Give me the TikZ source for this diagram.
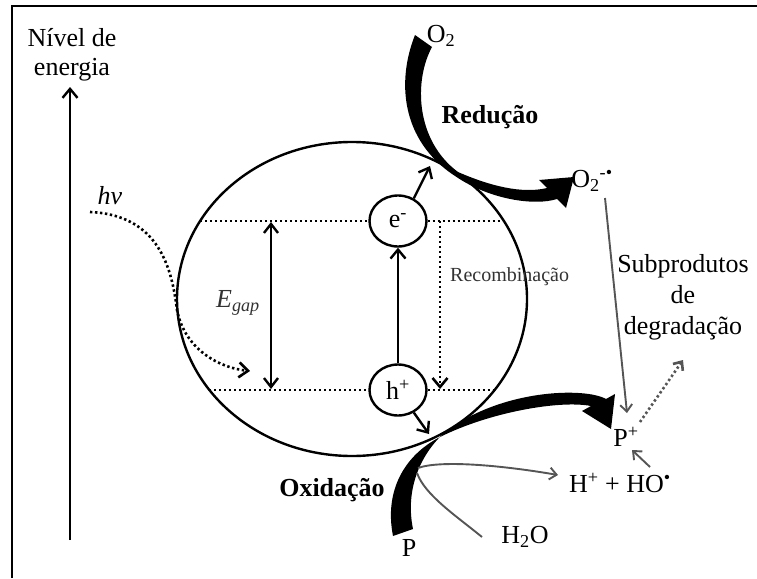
\documentclass[tikz,border=0pt]{standalone}
\usepackage{fontspec}
\setmainfont{Liberation Serif}
\usetikzlibrary{arrows.meta,shapes.geometric}
\definecolor{graycol}{HTML}{555555}
\definecolor{txtgray}{HTML}{333333}
\begin{document}
\begin{tikzpicture}[x=1pt,y=-1pt,
  every node/.style={font=\fontsize{26}{30}\selectfont, inner sep=0pt},
  boldtxt/.style={font=\fontsize{26}{30}\selectfont\bfseries},
  barb/.style={-{Straight Barb[length=9pt,width=15pt]}},
  dbarb/.style={{Straight Barb[length=9pt,width=14pt]}-{Straight Barb[length=9pt,width=14pt]}},
  gbarb/.style={-{Straight Barb[length=7pt,width=12pt]}},
  dotline/.style={line width=2.6pt, dash pattern=on 2.4pt off 2.6pt},
  grayline/.style={draw=graycol, line width=1.9pt},
  thickline/.style={line width=2.4pt},
  carrier/.style={draw, line width=2.4pt, ellipse, minimum width=57pt, minimum height=51pt, fill=white}]
\useasboundingbox (0,0) rectangle (757,578);
% frame
\draw[line width=2.4pt] (12,578) -- (12,6) -- (757,6);
% energy axis
\coordinate (ax0) at (70,540);
\coordinate (ax1) at (70,87);
\draw[thickline,barb] (ax0) -- (ax1);
\node[align=center, font=\fontsize{26}{29}\selectfont] (nivel) at (72,55) {Nível de\\energia};
% particle ellipse
\draw[thickline] (352,299) ellipse [x radius=175pt, y radius=157pt];
% band levels
\coordinate (vbL) at (200,221);
\coordinate (vbR) at (504,221);
\coordinate (cbL) at (209,390);
\coordinate (cbR) at (495,390);
\node[carrier] (e) at (398,221) {e\textsuperscript{-}};
\node[carrier] (h) at (398,390) {h\textsuperscript{+}};
\draw[dotline] (vbL) -- (e.west);
\draw[dotline] (e.east) -- (vbR);
\draw[dotline] (cbL) -- (h.west);
\draw[dotline] (h.east) -- (cbR);
% Egap
\coordinate (g1) at (271,222);
\coordinate (g2) at (271,389);
\draw[thickline,dbarb] (g1) -- (g2);
\node[text=txtgray] (egap) at (238,303) {\textit{E}\textsubscript{\textit{gap}}};
% excitation
\draw[thickline,barb] (h.north) -- (e.south);
\coordinate (eout) at (430,166);
\coordinate (hout) at (429,434);
\draw[thickline,barb] (e.55) -- (eout);
\draw[thickline,barb] (h.-55) -- (hout);
% recombination
\coordinate (r1) at (440,221);
\coordinate (r2) at (440,389);
\draw[dotline,barb] (r1) -- (r2);
\node[anchor=west, font=\fontsize{20}{24}\selectfont, text=txtgray] (recomb) at (450,277) {Recombinação};
% hv
\node (hv) at (110,196) {\textit{hv}};
\coordinate (hv0) at (90,212);
\coordinate (hv1) at (250,371);
\draw[dotline,barb] (hv0) .. controls (160,215) and (172,270) .. (177,310) .. controls (185,350) and (220,368) .. (hv1);
% reduction thick arrow
\fill (415,35) .. controls (397,80) and (400,140) .. (455,176) .. controls (490,200) and (535,206) .. (557,199) -- (566,208) -- (574,177) -- (539,180) -- (547,188) .. controls (522,194) and (490,186) .. (458,172) .. controls (415,140) and (414,80) .. (432,47) -- cycle;
% oxidation thick arrow
\fill (393,536) .. controls (384,490) and (405,455) .. (440,437) .. controls (490,412) and (560,400) .. (591,406) -- (582,411) -- (611,429) -- (615,394) -- (606,399) .. controls (585,387) and (500,389) .. (444,433) .. controls (420,455) and (405,490) .. (413,529) -- cycle;
% labels
\node (o2) at (441,36) {O\textsubscript{2}};
\node[boldtxt] (red) at (490,117) {Redução};
\node (o2m) at (592,181) {O\textsubscript{2}\textsuperscript{-•}};
\node[align=center, font=\fontsize{26}{31}\selectfont] (sub) at (683,297) {Subprodutos\\de\\degradação};
\node (pplus) at (626,437) {P\textsuperscript{+}};
\node (hho) at (620,483) {H\textsuperscript{+} + HO\textsuperscript{•}};
\node (h2o) at (525,537) {H\textsubscript{2}O};
\node (p) at (409,548) {P};
\node[boldtxt] (ox) at (332,490) {Oxidação};
% gray connectors
\coordinate (o2foot) at (605,198);
\coordinate (ppin) at (627,413);
\draw[grayline,gbarb] (o2foot) -- (ppin);
\coordinate (pp0) at (640,422);
\coordinate (pp1) at (683,360);
\draw[graycol,dotline,gbarb] (pp0) -- (pp1);
\coordinate (ho0) at (650,467);
\coordinate (ho1) at (632,450);
\draw[grayline,gbarb] (ho0) -- (ho1);
\coordinate (w0) at (418,468);
\coordinate (hin) at (558,475);
\draw[grayline,gbarb] (w0) .. controls (440,460) and (500,465) .. (hin);
\coordinate (w1) at (417,473);
\coordinate (wend) at (482,537);
\draw[grayline] (w1) .. controls (425,495) and (455,515) .. (wend);
\end{tikzpicture}
\end{document}
